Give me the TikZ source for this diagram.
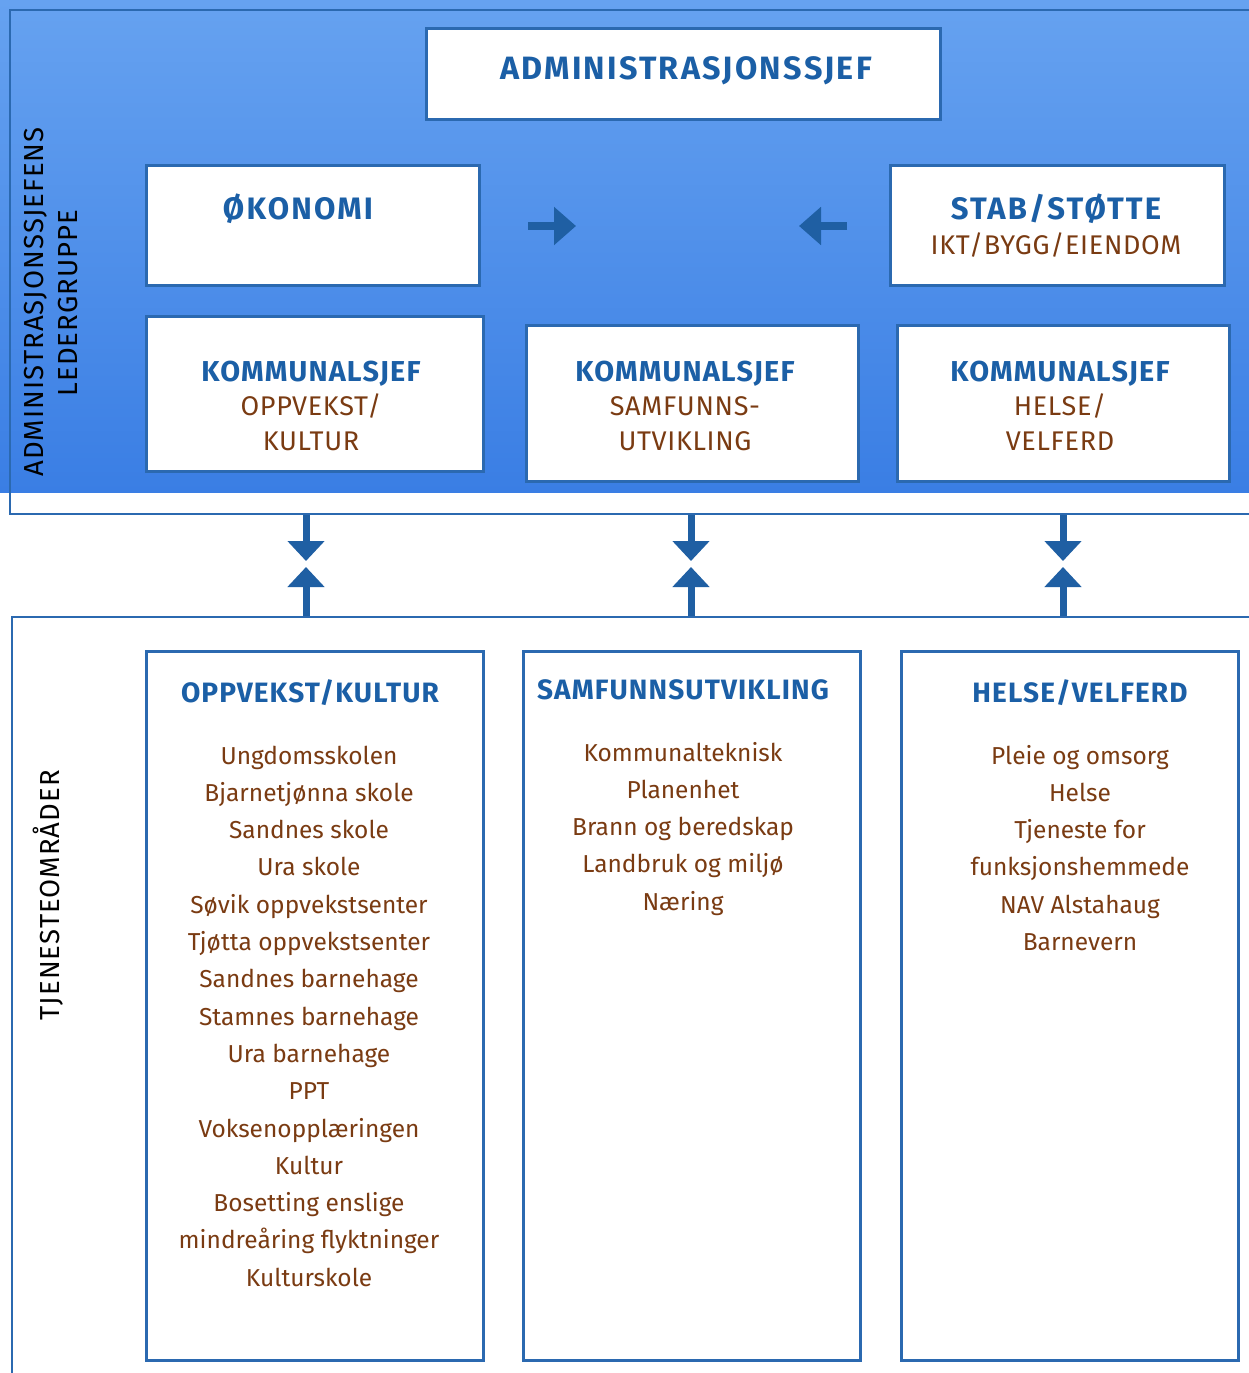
\documentclass[tikz,border=0pt]{standalone}
\usepackage{fontspec}
\setmainfont{Fira Sans}
\newfontfamily\headfont[LetterSpace=4]{Fira Sans}
\newfontfamily\bigheadfont[LetterSpace=7]{Fira Sans}
\newfontfamily\subfont[LetterSpace=2.5]{Fira Sans}
\usetikzlibrary{arrows.meta}
\definecolor{headblue}{HTML}{1B5FA6}
\definecolor{brownt}{HTML}{7A3B12}
\definecolor{boxline}{HTML}{2B69B0}
\definecolor{arrowblue}{HTML}{1F5FA3}
\definecolor{bgtop}{HTML}{66A2F0}
\definecolor{bgbot}{HTML}{3A7EE4}
\tikzset{
  box/.style={draw=boxline, line width=3pt, fill=white, inner sep=0pt},
  frame/.style={draw=boxline, line width=2pt, inner sep=0pt},
  head/.style={text=headblue, font=\headfont\bfseries\fontsize{28}{33}\selectfont, inner sep=0pt, anchor=base},
  kshead/.style={text=headblue, font=\headfont\bfseries\fontsize{28.8}{33}\selectfont, inner sep=0pt, anchor=base},
  bighead/.style={text=headblue, font=\bigheadfont\bfseries\fontsize{31}{36}\selectfont, inner sep=0pt, anchor=base},
  adminhead/.style={text=headblue, font=\bigheadfont\bfseries\fontsize{32.3}{36}\selectfont, inner sep=0pt, anchor=base},
  sub/.style={text=brownt, font=\subfont\fontsize{27}{32}\selectfont, inner sep=0pt, anchor=base},
  item/.style={text=brownt, font=\fontsize{24.5}{30}\selectfont, inner sep=0pt, anchor=base},
  side/.style={text=black, font=\headfont\fontsize{27.5}{32}\selectfont, inner sep=0pt, rotate=90},
  harrow/.style={draw=arrowblue, line width=8pt, -{Triangle[width=37pt,length=22pt]}},
  varrow/.style={draw=arrowblue, line width=7pt, -{Triangle[width=36pt,length=20pt]}},
}
\begin{document}
\begin{tikzpicture}[x=1pt,y=-1pt]
\useasboundingbox (0,0) rectangle (1249,1373);
\fill[white] (0,0) rectangle (1249,1373);
\shade[top color=bgtop, bottom color=bgbot] (0,0) rectangle (1249,492);
% frames
\node[frame, minimum width=1252pt, minimum height=504pt] (topframe) at (636,262) {};
\node[frame, minimum width=1250pt, minimum height=768pt] (botframe) at (637,1001) {};
% top boxes
\node[box, minimum width=514pt, minimum height=91pt] (admin) at (683,73.5) {};
\node[box, minimum width=333pt, minimum height=120pt] (oko) at (312.5,225) {};
\node[box, minimum width=334pt, minimum height=120pt] (stab) at (1057,225) {};
\node[box, minimum width=337pt, minimum height=155pt] (k1) at (314.5,393.5) {};
\node[box, minimum width=332pt, minimum height=156pt] (k2) at (692,403) {};
\node[box, minimum width=332pt, minimum height=156pt] (k3) at (1063,403) {};
\node[adminhead] (admintxt) at (686,79) {ADMINISTRASJONSSJEF};
\node[bighead] (okotxt) at (298,219) {ØKONOMI};
\node[bighead] (stabtxt) at (1056,219) {STAB/STØTTE};
\node[sub] (stabsub) at (1056,254) {IKT/BYGG/EIENDOM};
\node[kshead] (k1a) at (311,381) {KOMMUNALSJEF};
\node[sub] (k1b) at (311,415) {OPPVEKST/};
\node[sub] (k1c) at (311,450) {KULTUR};
\node[kshead] (k2a) at (685,381) {KOMMUNALSJEF};
\node[sub] (k2b) at (685,415) {SAMFUNNS-};
\node[sub] (k2c) at (685,450) {UTVIKLING};
\node[kshead] (k3a) at (1060,381) {KOMMUNALSJEF};
\node[sub] (k3b) at (1060,415) {HELSE/};
\node[sub] (k3c) at (1060,450) {VELFERD};
\node[side] (side1) at (36,302) {ADMINISTRASJONSSJEFENS};
\node[side] (side2) at (68,303) {LEDERGRUPPE};
% horizontal arrows
\coordinate (h1s) at (528,226); \coordinate (h1e) at (576,226);
\coordinate (h2s) at (847,226); \coordinate (h2e) at (799,226);
\draw[harrow] (h1s) -- (h1e);
\draw[harrow] (h2s) -- (h2e);
% vertical arrows
\foreach \x [count=\i] in {306,691,1063} {
  \coordinate (vx\i) at (\x,0);
  \draw[varrow] (topframe.south -| vx\i) -- ++(0,46);
  \draw[varrow] (botframe.north -| vx\i) -- ++(0,-49);
}
% bottom boxes
\node[box, minimum width=337pt, minimum height=709pt] (t1) at (314.5,1005.5) {};
\node[box, minimum width=337pt, minimum height=709pt] (t2) at (691.5,1005.5) {};
\node[box, minimum width=337pt, minimum height=709pt] (t3) at (1069.5,1005.5) {};
\node[side] (side3) at (48,895) {TJENESTEOMRÅDER};
\node[head] (t1h) at (310,702) {OPPVEKST/KULTUR};
\node[head] (t2h) at (683,699) {SAMFUNNSUTVIKLING};
\node[head] (t3h) at (1080,702) {HELSE/VELFERD};
\foreach \t [count=\i] in {Ungdomsskolen, Bjarnetjønna skole, Sandnes skole, Ura skole, Søvik oppvekstsenter, Tjøtta oppvekstsenter, Sandnes barnehage, Stamnes barnehage, Ura barnehage, PPT, Voksenopplæringen, Kultur, Bosetting enslige, mindreåring flyktninger, Kulturskole}
  \node[item] (a\i) at (309,{764+(\i-1)*37.3}) {\t};
\foreach \t [count=\i] in {Kommunalteknisk, Planenhet, Brann og beredskap, Landbruk og miljø, Næring}
  \node[item] (b\i) at (683,{761+(\i-1)*37.3}) {\t};
\foreach \t [count=\i] in {Pleie og omsorg, Helse, Tjeneste for, funksjonshemmede, NAV Alstahaug, Barnevern}
  \node[item] (c\i) at (1080,{764+(\i-1)*37.3}) {\t};
\end{tikzpicture}
\end{document}
